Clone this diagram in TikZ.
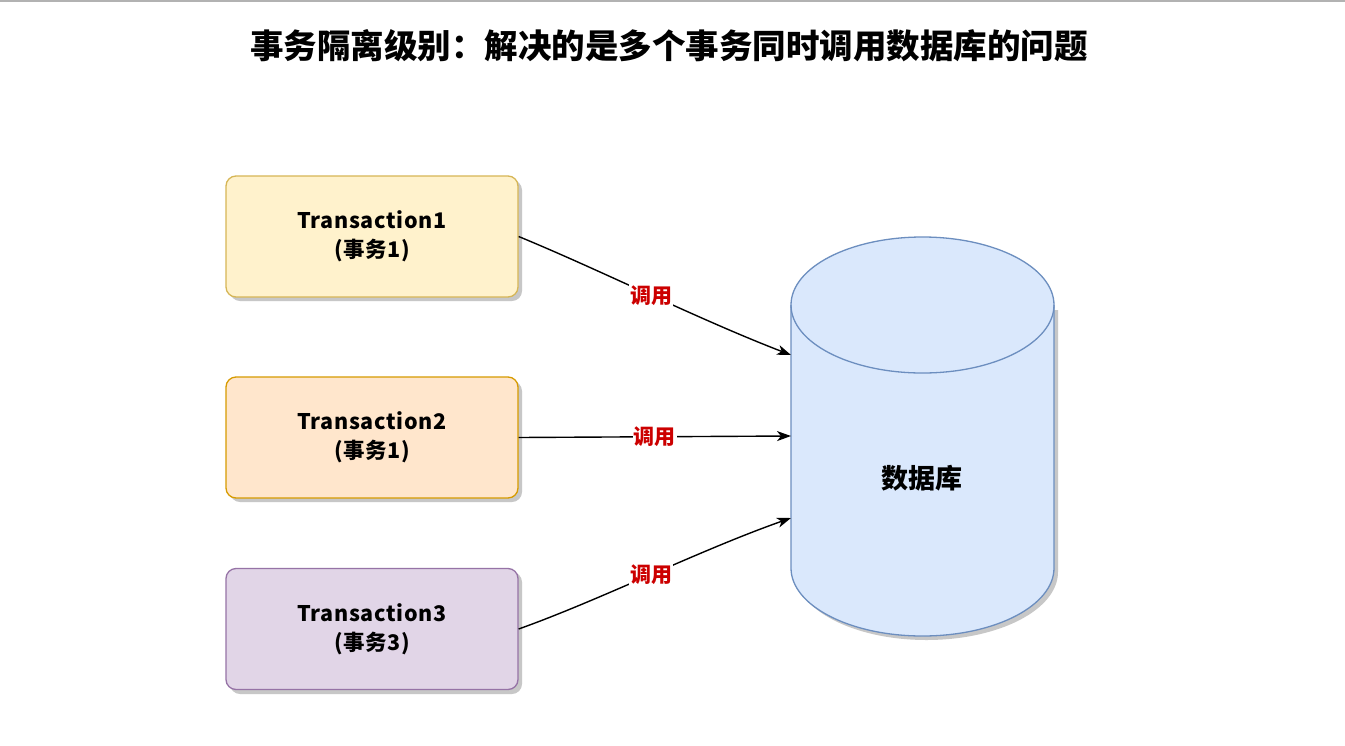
\documentclass[tikz,border=0pt]{standalone}
\usepackage{fontspec}
\newfontfamily\cjk{Noto Sans CJK SC}
\newfontfamily\cjkbox[LetterSpace=3]{Noto Sans CJK SC}
\usetikzlibrary{arrows.meta,calc}
\definecolor{y1fill}{HTML}{FFF2CC}\definecolor{y1draw}{HTML}{D6B656}
\definecolor{o1fill}{HTML}{FFE6CC}\definecolor{o1draw}{HTML}{D79B00}
\definecolor{p1fill}{HTML}{E1D5E7}\definecolor{p1draw}{HTML}{9673A6}
\definecolor{b1fill}{HTML}{DAE8FC}\definecolor{b1draw}{HTML}{6C8EBF}
\definecolor{callred}{HTML}{CC0000}
\tikzset{
  txbox/.style={rounded corners=10pt, line width=1.3pt, minimum width=292pt, minimum height=121pt,
    align=center, font=\cjkbox\bfseries\fontsize{21.5}{29}\selectfont, inner sep=0pt},
  shadowbox/.style={fill=black!22, draw=none, rounded corners=10pt},
  callarrow/.style={line width=1.4pt, -{Stealth[length=14pt,width=10pt,inset=4pt]}},
  calllabel/.style={fill=white, inner sep=1pt, text=callred, font=\cjk\bfseries\fontsize{21}{24}\selectfont},
}
\begin{document}
\begin{tikzpicture}[x=1pt,y=-1pt]
\useasboundingbox (0,0) rectangle (1345,745);
\fill[white] (0,0) rectangle (1345,745);
\draw[black!30, line width=2pt] (0,1) -- (1345,1);
% title
\node (title) at (669,46) {\cjk\bfseries\fontsize{33.5}{38}\selectfont 事务隔离级别：解决的是多个事务同时调用数据库的问题};
% shadows
\fill[shadowbox] (230,180) rectangle (522,301);
\fill[shadowbox] (230,381) rectangle (522,502);
\fill[shadowbox] (230,572) rectangle (522,694);
% boxes
\node[txbox, fill=y1fill, draw=y1draw] (t1) at (372,236.5) {Transaction1\\(事务1)};
\node[txbox, fill=o1fill, draw=o1draw] (t2) at (372,437.5) {Transaction2\\(事务1)};
\node[txbox, fill=p1fill, draw=p1draw] (t3) at (372,629) {Transaction3\\(事务3)};
% database cylinder
\fill[black!22] (795,310) -- (795,572) arc[start angle=180,end angle=360,x radius=131.5pt,y radius=68pt] -- (1058,310) -- cycle;
\path[fill=b1fill, draw=b1draw, line width=1.3pt]
  (791,305) -- (791,568) arc[start angle=180,end angle=360,x radius=131.5pt,y radius=68pt]
  -- (1054,305) arc[start angle=0,end angle=180,x radius=131.5pt,y radius=68pt];
\draw[b1draw, line width=1.3pt] (791,305) arc[start angle=180,end angle=360,x radius=131.5pt,y radius=68pt];
\node[font=\cjk\bfseries\fontsize{27}{30}\selectfont] (db) at (922,478) {数据库};
\coordinate (in1) at (791,355);
\coordinate (in2) at (791,436);
\coordinate (in3) at (791,518);
% connectors
\draw[callarrow] (t1.east) .. controls (600,270) and (700,320) .. node[calllabel, pos=0.5] (l1) {调用} (in1);
\draw[callarrow] (t2.east) -- node[calllabel, pos=0.5] (l2) {调用} (in2);
\draw[callarrow] (t3.east) .. controls (600,600) and (700,550) .. node[calllabel, pos=0.5] (l3) {调用} (in3);
\end{tikzpicture}
\end{document}
